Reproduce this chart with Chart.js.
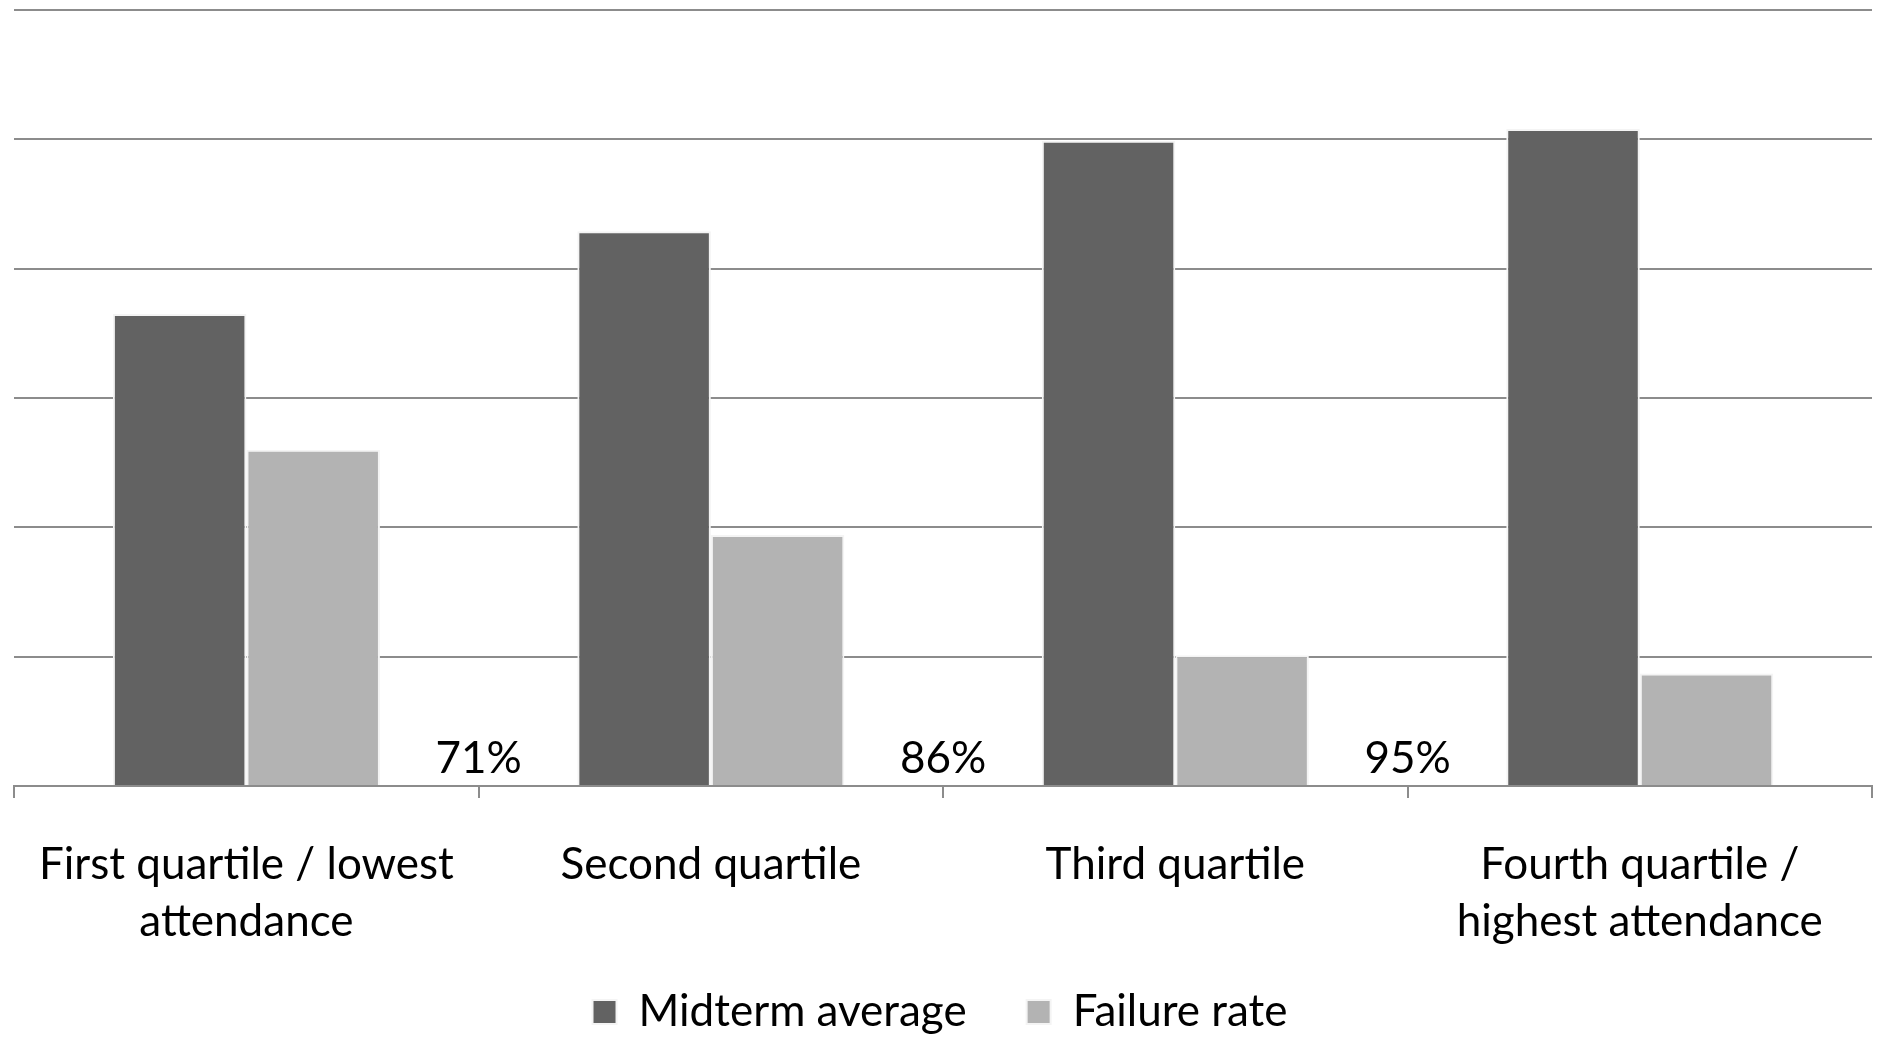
<!DOCTYPE html>
<html>
<head>
<meta charset="utf-8">
<script src="https://cdn.jsdelivr.net/npm/chart.js@4/dist/chart.umd.min.js"></script>
<style>
  html, body { margin: 0; padding: 0; background: #ffffff; }
  #wrap { width: 1879px; height: 1039px; position: relative; }
</style>
</head>
<body>
<div id="wrap"><canvas id="c" width="1879" height="1039"></canvas></div>
<script>
const categories = [
  ['First quartile / lowest', 'attendance'],
  ['Second quartile'],
  ['Third quartile'],
  ['Fourth quartile /', 'highest attendance']
];
const midtermAverage = [36.5, 42.9, 49.9, 50.8];
const failureRate = [26.0, 19.4, 10.1, 8.7];
const betweenLabels = ['71%', '86%', '95%'];
const seriesNames = ['Midterm average', 'Failure rate'];

const FONT = 'Lato, "Open Sans", sans-serif';
const LEGEND_FONT_SIZE = 44;

const betweenLabelPlugin = {
  id: 'betweenLabels',
  beforeLayout(chart) {
    const lg = chart.legend;
    if (lg && !lg._trimmed) {
      const orig = lg.fit.bind(lg);
      lg.fit = function () {
        orig();
        // keep only the top padding plus one row of items
        this.height = this.options.labels.padding + LEGEND_FONT_SIZE;
      };
      lg._trimmed = true;
    }
  },
  afterDatasetsDraw(chart) {
    const ctx = chart.ctx;
    const xs = chart.scales.x;
    const ys = chart.scales.y;
    ctx.save();
    ctx.fillStyle = '#000';
    ctx.font = '44px ' + FONT;
    ctx.textAlign = 'center';
    ctx.textBaseline = 'alphabetic';
    betweenLabels.forEach((t, i) => {
      const x = (xs.getPixelForValue(i) + xs.getPixelForValue(i + 1)) / 2;
      ctx.fillText(t, x, ys.getPixelForValue(0) - 13);
    });
    ctx.restore();
  }
};

new Chart(document.getElementById('c'), {
  type: 'bar',
  data: {
    labels: categories,
    datasets: [
      { label: seriesNames[0], data: midtermAverage, backgroundColor: '#626262', borderColor: '#f4f4f4', borderWidth: 2 },
      { label: seriesNames[1], data: failureRate, backgroundColor: '#b3b3b3', borderColor: '#f4f4f4', borderWidth: 2 }
    ]
  },
  options: {
    responsive: false,
    animation: false,
    devicePixelRatio: 1,
    layout: { padding: { left: 8, right: 7, top: 10, bottom: 5 } },
    datasets: { bar: { categoryPercentage: 0.575, barPercentage: 1.0 } },
    plugins: {
      legend: {
        position: 'bottom',
        labels: {
          color: '#000',
          font: { family: FONT, size: LEGEND_FONT_SIZE },
          boxWidth: 24,
          boxHeight: 24,
          padding: 60
        }
      },
      tooltip: { enabled: false }
    },
    scales: {
      x: {
        grid: { display: true, drawOnChartArea: false, drawTicks: true, tickLength: 12, color: '#8c8c8c', lineWidth: 2, offset: true },
        border: { display: true, color: '#8c8c8c', width: 2 },
        ticks: { color: '#000', font: { family: FONT, size: 44, lineHeight: 1.307 }, padding: 38, maxRotation: 0, autoSkip: false },
        afterFit(scale) {
          scale.height = 144;
          // let the second label line extend into the legend's top padding
          scale._computeLabelArea = function () { return undefined; };
        }
      },
      y: {
        min: 0, max: 60,
        ticks: { display: false, stepSize: 10 },
        grid: { color: '#8c8c8c', lineWidth: 2, drawTicks: false },
        border: { display: false }
      }
    }
  },
  plugins: [betweenLabelPlugin]
});
</script>
</body>
</html>
